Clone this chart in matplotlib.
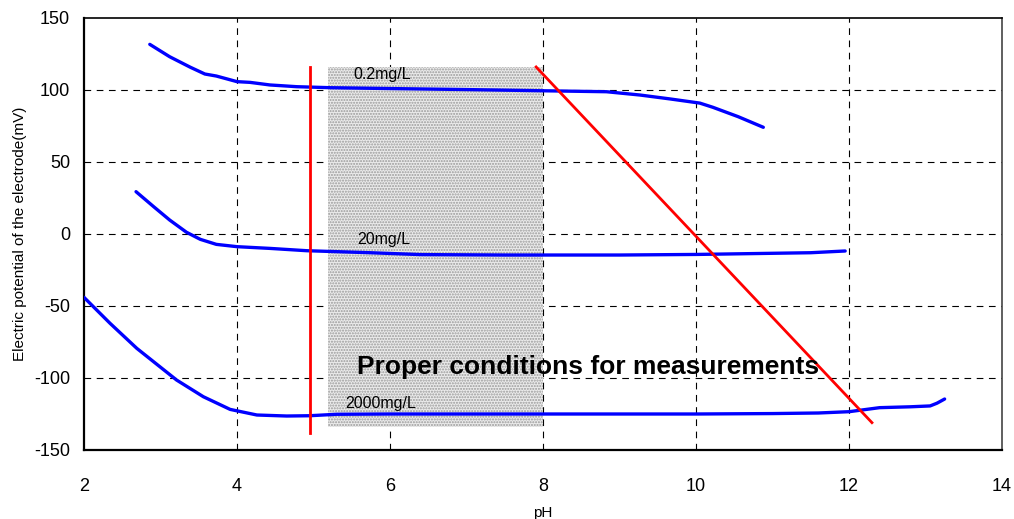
import matplotlib
matplotlib.use("Agg")
import matplotlib.pyplot as plt
from matplotlib.patches import Rectangle

plt.rcParams['font.family'] = ['Liberation Sans', 'DejaVu Sans']
plt.rcParams['axes.unicode_minus'] = False
plt.rcParams['hatch.linewidth'] = 1.0

# Data
ph_02 = [2.86, 3.12, 3.39, 3.58, 3.73, 4.0, 4.17, 4.43, 4.78, 5.22, 6.0, 7.0,
         7.96, 8.83, 9.27, 9.66, 10.05, 10.22, 10.55, 10.88]
mv_02 = [131.7, 123.1, 115.8, 111.1, 109.7, 105.8, 105.3, 103.5, 102.3, 101.6, 101.0, 100.3,
         99.5, 98.8, 96.5, 93.8, 90.9, 88.0, 81.5, 74.1]

ph_20 = [2.68, 2.91, 3.12, 3.34, 3.52, 3.73, 4.0, 4.43, 4.91, 5.74, 6.4, 7.5, 9.0,
         10.0, 11.0, 11.5, 11.95]
mv_20 = [29.4, 19.0, 9.7, 1.2, -3.7, -7.2, -8.8, -10.0, -11.6, -13.0, -14.3, -14.6, -14.6,
         -14.2, -13.4, -13.0, -11.8]

ph_2000 = [2.0, 2.34, 2.69, 3.21, 3.56, 3.91, 4.26, 4.65, 4.95, 5.3, 6.0, 8.0, 10.0,
           11.0, 11.6, 12.0, 12.4, 12.8, 13.06, 13.15, 13.25]
mv_2000 = [-44.0, -62.0, -79.4, -101.4, -113.0, -121.8, -125.7, -126.4, -126.2, -125.2,
           -125.0, -125.0, -125.0, -124.7, -124.3, -123.4, -120.6, -120.0, -119.4, -117.5, -114.6]

series_labels = ["0.2mg/L", "20mg/L", "2000mg/L"]
label_pos = [(5.52, 111), (5.57, -4), (5.42, -118)]

region_ph = (5.19, 8.0)
region_mv = (-134.2, 116.2)
vline_ph = 4.95
vline_mv = (-138, 116)
diag_ph = [7.91, 12.30]
diag_mv = [116, -131]

fig = plt.figure(figsize=(10.14, 5.19), dpi=100)
ax = fig.add_axes([84/1014, 1 - 450/519, 918/1014, 432/519])
ax.set_xlim(2, 14)
ax.set_ylim(-150, 150)
ax.set_xticks(range(2, 15, 2))
ax.set_yticks(range(-150, 151, 50))

for x in range(4, 14, 2):
    ax.axvline(x, color='black', lw=0.8, ls=(0, (6, 5)), zorder=1)
for y in range(-100, 150, 50):
    ax.axhline(y, color='black', lw=0.8, ls=(0, (6, 5)), zorder=1)

rect = Rectangle((region_ph[0], region_mv[0]), region_ph[1] - region_ph[0],
                 region_mv[1] - region_mv[0], facecolor='#ebebeb',
                 edgecolor='#9a9a9a', hatch='......', lw=0, zorder=2)
ax.add_patch(rect)

for px, py in [(ph_02, mv_02), (ph_20, mv_20), (ph_2000, mv_2000)]:
    ax.plot(px, py, color='#0000ff', lw=2.4, zorder=4,
            solid_capstyle='round', solid_joinstyle='round')

ax.plot([vline_ph, vline_ph], list(vline_mv), color='#ff0000', lw=2.0, zorder=5)
ax.plot(diag_ph, diag_mv, color='#ff0000', lw=2.0, zorder=5)

for lab, (x, y) in zip(series_labels, label_pos):
    ax.text(x, y, lab, fontsize=11.5, ha='left', va='center', zorder=6)

ax.text(5.57, -92.4, "Proper conditions for measurements", fontsize=19,
        fontweight='bold', ha='left', va='center', zorder=6)

for s in ['left', 'bottom']:
    ax.spines[s].set_linewidth(1.6)
    ax.spines[s].set_color('black')
ax.spines['top'].set_linewidth(1.2)
ax.spines['right'].set_linewidth(1.2)
ax.spines['right'].set_color('#444444')

ax.tick_params(axis='both', length=0, labelsize=13)
ax.tick_params(axis='x', pad=20)
ax.tick_params(axis='y', pad=10)

ax.set_ylabel("Electric potential of the electrode(mV)", fontsize=11, labelpad=5)
ax.set_xlabel("pH", fontsize=11, labelpad=8)

fig.savefig("out.png", dpi=100)
